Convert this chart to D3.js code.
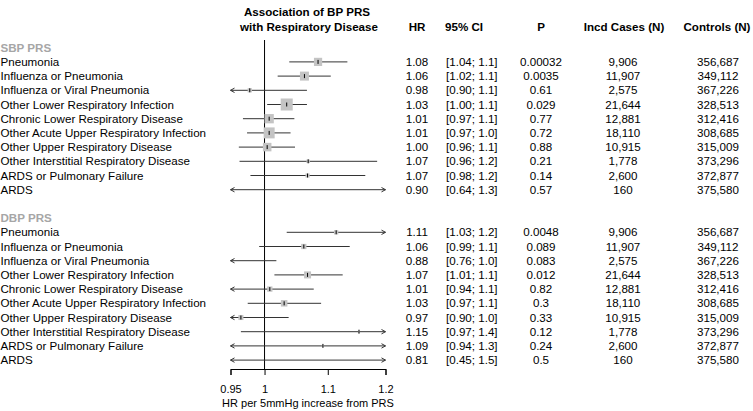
<!DOCTYPE html>
<html>
<head>
<meta charset="utf-8">
<script src="https://cdn.jsdelivr.net/npm/d3@7"></script>
<style>
  body { margin: 0; background: #fff; }
  svg text { font-family: "Liberation Sans", Arial, Helvetica, sans-serif; }
</style>
</head>
<body>
<svg id="forest" width="753" height="411"></svg>
<script>
// outcome names, same for both PRS groups
const outcomes = [
    "Pneumonia",
    "Influenza or Pneumonia",
    "Influenza or Viral Pneumonia",
    "Other Lower Respiratory Infection",
    "Chronic Lower Respiratory Disease",
    "Other Acute Upper Respiratory Infection",
    "Other Upper Respiratory Disease",
    "Other Interstitial Respiratory Disease",
    "ARDS or Pulmonary Failure",
    "ARDS"
];

// SBP PRS: estimates and CI ends, plus table text
const sbpEst = [1.084, 1.062, 0.978, 1.034, 1.007, 1.007, 1.004, 1.068, 1.067, 0.90];
const sbpLo = [1.038, 1.020, 0.90, 1.004, 0.968, 0.974, 0.962, 0.963, 0.979, 0.64];
const sbpHi = [1.133, 1.105, 1.066, 1.066, 1.046, 1.040, 1.047, 1.185, 1.164, 1.30];
const sbpHR = ["1.08", "1.06", "0.98", "1.03", "1.01", "1.01", "1.00", "1.07", "1.07", "0.90"];
const sbpCI = ["[1.04; 1.1]", "[1.02; 1.1]", "[0.90; 1.1]", "[1.00; 1.1]", "[0.97; 1.1]",
               "[0.97; 1.0]", "[0.96; 1.1]", "[0.96; 1.2]", "[0.98; 1.2]", "[0.64; 1.3]"];
const sbpP = ["0.00032", "0.0035", "0.61", "0.029", "0.77", "0.72", "0.88", "0.21", "0.14", "0.57"];

// DBP PRS
const dbpEst = [1.114, 1.061, 0.88, 1.067, 1.008, 1.030, 0.965, 1.153, 1.092, 0.81];
const dbpLo = [1.034, 0.992, 0.76, 1.015, 0.94, 0.975, 0.90, 0.965, 0.94, 0.45];
const dbpHi = [1.22, 1.137, 1.018, 1.125, 1.077, 1.089, 1.037, 1.40, 1.30, 1.50];
const dbpHR = ["1.11", "1.06", "0.88", "1.07", "1.01", "1.03", "0.97", "1.15", "1.09", "0.81"];
const dbpCI = ["[1.03; 1.2]", "[0.99; 1.1]", "[0.76; 1.0]", "[1.01; 1.1]", "[0.94; 1.1]",
               "[0.97; 1.1]", "[0.90; 1.0]", "[0.97; 1.4]", "[0.94; 1.3]", "[0.45; 1.5]"];
const dbpP = ["0.0048", "0.089", "0.083", "0.012", "0.82", "0.3", "0.33", "0.12", "0.24", "0.5"];

// case / control counts (same for both groups)
const cases = ["9,906", "11,907", "2,575", "21,644", "12,881", "18,110", "10,915", "1,778", "2,600", "160"];
const controls = ["356,687", "349,112", "367,226", "328,513", "312,416", "308,685", "315,009",
                  "373,296", "372,877", "375,580"];

const axisTicks = [0.95, 1, 1.1, 1.2];

const svg = d3.select("#forest");
const fontSize = 11.6;

const x = d3.scaleLog().domain([0.95, 1.2]).range([230.5, 385.5]);
// row 0 = SBP header, rows 1-10 SBP, row 12 = DBP header, rows 13-22 DBP
const y = d3.scaleLinear().domain([0, 22]).range([47.7, 360.1]);

// build row table
const rows = [];
function addGroup(title, start, est, lo, hi, hr, ci, p) {
    rows.push({ header: true, label: title, row: start });
    outcomes.forEach((name, i) => {
        rows.push({
            header: false, label: name, row: start + 1 + i,
            est: est[i], lo: lo[i], hi: hi[i],
            hr: hr[i], ci: ci[i], p: p[i], cases: cases[i], controls: controls[i]
        });
    });
}
addGroup("SBP PRS", 0, sbpEst, sbpLo, sbpHi, sbpHR, sbpCI, sbpP);
addGroup("DBP PRS", 12, dbpEst, dbpLo, dbpHi, dbpHR, dbpCI, dbpP);

// column headers
const head = svg.append("g").attr("font-weight", "bold").attr("font-size", fontSize + "px");
head.append("text").attr("x", 307).attr("y", 16).attr("text-anchor", "middle")
    .text("Association of BP PRS");
head.append("text").attr("x", 309).attr("y", 31).attr("text-anchor", "middle")
    .text("with Respiratory Disease");
head.append("text").attr("x", 417).attr("y", 31).attr("text-anchor", "middle").text("HR");
head.append("text").attr("x", 445).attr("y", 31).attr("text-anchor", "start").text("95% CI");
head.append("text").attr("x", 541).attr("y", 31).attr("text-anchor", "middle").text("P");
head.append("text").attr("x", 624).attr("y", 31).attr("text-anchor", "middle").text("Incd Cases (N)");
head.append("text").attr("x", 717).attr("y", 31).attr("text-anchor", "middle").text("Controls (N)");

// labels + table columns
const rowG = svg.selectAll(".row")
    .data(rows)
    .enter()
    .append("g")
    .attr("class", "row")
    .attr("font-size", fontSize + "px");

rowG.append("text")
    .attr("x", 0.5)
    .attr("y", d => y(d.row))
    .attr("dy", "0.36em")
    .attr("fill", d => d.header ? "#a6a6a6" : "#000")
    .attr("font-weight", d => d.header ? "bold" : "normal")
    .text(d => d.label);

const dataRows = rowG.filter(d => !d.header);
const cols = [
    { key: "hr", x: 417, anchor: "middle" },
    { key: "ci", x: 446, anchor: "start" },
    { key: "p", x: 541, anchor: "middle" },
    { key: "cases", x: 623, anchor: "middle" },
    { key: "controls", x: 718, anchor: "middle" }
];
cols.forEach(c => {
    dataRows.append("text")
        .attr("x", c.x)
        .attr("y", d => y(d.row))
        .attr("dy", "0.36em")
        .attr("text-anchor", c.anchor)
        .text(d => d[c.key]);
});

// reference line at HR = 1
svg.append("line")
    .attr("x1", x(1)).attr("x2", x(1))
    .attr("y1", 40).attr("y2", 369)
    .attr("stroke", "#000").attr("stroke-width", 1);

// CI lines with arrows where they run off the axis
const [dMin, dMax] = x.domain();
const ciG = svg.append("g");
dataRows.data().forEach(d => {
    const yy = y(d.row);
    const x1 = x(Math.max(d.lo, dMin));
    const x2 = x(Math.min(d.hi, dMax));
    ciG.append("line")
        .attr("x1", x1).attr("x2", x2)
        .attr("y1", yy).attr("y2", yy)
        .attr("stroke", "#333").attr("stroke-width", 1);
    if (d.lo < dMin) {
        ciG.append("path")
            .attr("d", `M${x1 + 4},${yy - 2.2}L${x1},${yy}L${x1 + 4},${yy + 2.2}`)
            .attr("fill", "none").attr("stroke", "#333").attr("stroke-width", 1);
    }
    if (d.hi > dMax) {
        ciG.append("path")
            .attr("d", `M${x2 - 4},${yy - 2.2}L${x2},${yy}L${x2 - 4},${yy + 2.2}`)
            .attr("fill", "none").attr("stroke", "#333").attr("stroke-width", 1);
    }
    // box size ~ precision of the estimate
    if (d.est >= dMin && d.est <= dMax) {
        const s = Math.min(14, 0.72 / Math.log(d.hi / d.lo));
        ciG.append("rect")
            .attr("x", x(d.est) - s / 2).attr("y", yy - s / 2)
            .attr("width", s).attr("height", s)
            .attr("fill", "#c4c4c4");
        ciG.append("line")
            .attr("x1", x(d.est)).attr("x2", x(d.est))
            .attr("y1", yy - 2).attr("y2", yy + 2)
            .attr("stroke", "#000").attr("stroke-width", 1);
    }
});

// x axis
const axis = svg.append("g")
    .attr("transform", "translate(0,369)")
    .call(d3.axisBottom(x).tickValues(axisTicks).tickFormat(d => d).tickSize(6).tickPadding(10));
axis.selectAll("text")
    .attr("font-size", "11px")
    .attr("font-family", '"Liberation Sans", Arial, sans-serif')
    .attr("fill", "#000");
axis.selectAll("path, line").attr("stroke", "#000");

svg.append("text")
    .attr("x", 308)
    .attr("y", 407)
    .attr("text-anchor", "middle")
    .attr("font-size", "11px")
    .text("HR per 5mmHg increase from PRS");
</script>
</body>
</html>
